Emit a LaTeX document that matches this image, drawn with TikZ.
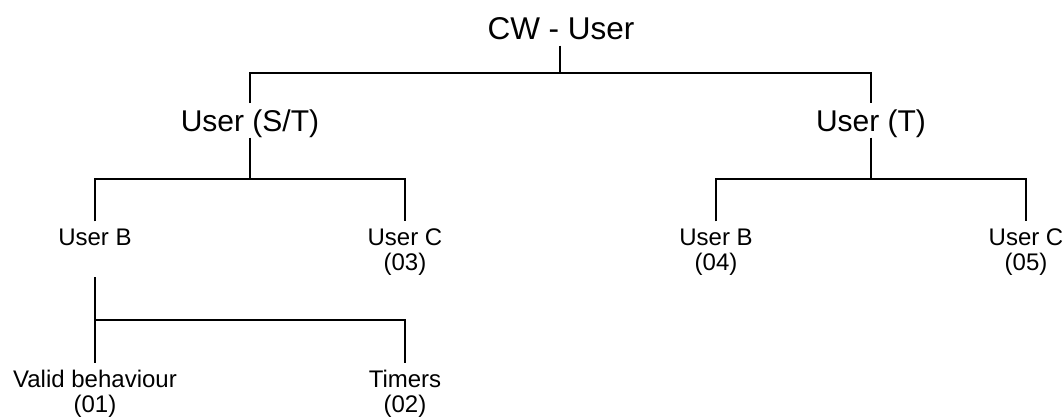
\documentclass[tikz,border=0pt]{standalone}
\usepackage{fontspec}
\setmainfont{Liberation Sans}
\begin{document}
\begin{tikzpicture}[x=1pt,y=-1pt,
  big/.style={font=\fontsize{30}{34}\selectfont, inner sep=0pt, text height=21.5pt, text depth=0pt, outer ysep=6.5pt, anchor=base},
  small/.style={font=\fontsize{24}{25}\selectfont, inner sep=0pt, align=center, outer ysep=7pt, anchor=base},
  conn/.style={line width=2.2pt}]
\useasboundingbox (0,0) rectangle (1063,416);
\node[big, font=\fontsize{31.5}{34}\selectfont] (root) at (561,39) {CW - User};
\node[big] (ust) at (250,131) {User (S/T)};
\node[big] (ut) at (871,131) {User (T)};
\node[small] (ub1) at (95,270) {User B\\\mbox{}};
\node[small] (uc1) at (405,270) {User C\\(03)};
\node[small] (ub2) at (716,270) {User B\\(04)};
\node[small] (uc2) at (1026,270) {User C\\(05)};
\node[small] (vb) at (95,412) {Valid behaviour\\(01)};
\node[small] (tm) at (405,412) {Timers\\(02)};
\coordinate (h0) at (560,73);
\coordinate (h1) at (250,179);
\coordinate (h2) at (871,179);
\coordinate (h3) at (95,320);
\draw[conn] (root.south -| h0) -- (h0);
\draw[conn] (ust.north) |- (h0) -| (ut.north);
\draw[conn] (ust.south) -- (h1);
\draw[conn] (ub1.north) |- (h1) -| (uc1.north);
\draw[conn] (ut.south) -- (h2);
\draw[conn] (ub2.north) |- (h2) -| (uc2.north);
\draw[conn] (ub1.south) -- (vb.north);
\draw[conn] (h3) -| (tm.north);
\end{tikzpicture}
\end{document}
